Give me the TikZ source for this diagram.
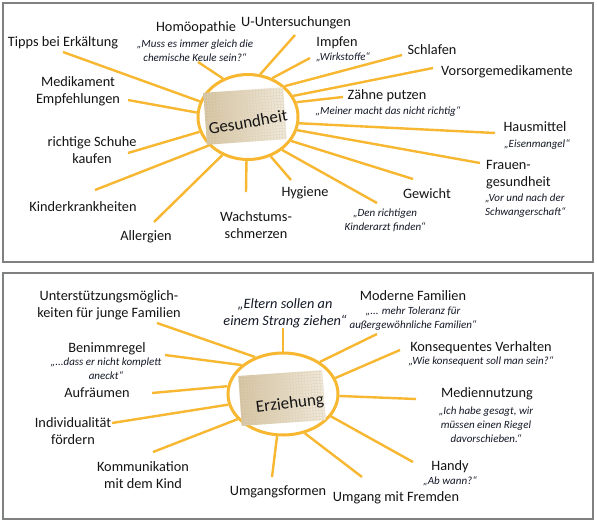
\documentclass[tikz,border=0pt]{standalone}
\usepackage{fontspec}
\setmainfont{Carlito}
\usetikzlibrary{shapes.geometric}
\definecolor{raycol}{HTML}{F7B731}
\definecolor{framecol}{HTML}{7F8080}
\definecolor{txtcol}{HTML}{141414}
\definecolor{qtcol}{HTML}{141826}
\definecolor{paperA}{HTML}{D3C19D}
\definecolor{paperB}{HTML}{F1EADC}
\definecolor{gridcol}{HTML}{DCD0B8}
\tikzset{
  lbl/.style={font=\fontsize{14.3}{17}\selectfont, text=txtcol, align=center, inner sep=0pt},
  qt/.style={font=\fontsize{11}{13.8}\selectfont\itshape, text=qtcol, align=center, inner sep=0pt},
  bigqt/.style={font=\fontsize{14.3}{17}\selectfont\itshape, text=qtcol, align=center, inner sep=0pt},
  ray/.style={draw=raycol, line width=2.4pt},
  hub/.style={ellipse, draw=raycol, line width=3pt, fill=white, inner sep=0pt},
  panel/.style={draw=framecol, line width=2.2pt},
  hubtext/.style={font=\fontsize{17}{20}\selectfont, text=txtcol, inner sep=0pt}
}
\begin{document}
\begin{tikzpicture}[x=1pt,y=-1pt]
\useasboundingbox (0,0) rectangle (597,523);
\fill[white] (0,0) rectangle (597,523);
% panels
\draw[panel] (3,3) rectangle (593,262);
\draw[panel] (3,273) rectangle (593,519);

% ===== top panel =====
\node[hub, minimum width=100pt, minimum height=85pt] (g) at (248,117) {};

\node[lbl] (tipps) at (63,43) {Tipps bei Erkältung};
\node[lbl] (homoe) at (196,28) {Homöopathie};
\node[qt] (homoeq) at (195,51) {„Muss es immer gleich die\\chemische Keule sein?“};
\node[lbl] (uunt) at (296,23) {U-Untersuchungen};
\node[lbl] (impf) at (337,43) {Impfen};
\node[qt] (impfq) at (343,57) {„Wirkstoffe“};
\node[lbl] (schlaf) at (432,50) {Schlafen};
\node[lbl] (vors) at (507,72) {Vorsorgemedikamente};
\node[lbl] (zaehne) at (387,96) {Zähne putzen};
\node[qt] (zaehneq) at (388,111) {„Meiner macht das nicht richtig“};
\node[lbl] (haus) at (535,127) {Hausmittel};
\node[qt] (hausq) at (537,144) {„Eisenmangel“};
\node[lbl, align=left, anchor=west] (frauen) at (486,175) {Frauen-\\gesundheit};
\node[qt, align=left, anchor=west] (frauenq) at (485,206) {„Vor und nach der\\Schwangerschaft“};
\node[lbl] (gewicht) at (427,194) {Gewicht};
\node[qt] (arztq) at (385,220) {„Den richtigen\\Kinderarzt finden“};
\node[lbl] (hyg) at (305,193) {Hygiene};
\node[lbl] (wachs) at (256,225) {Wachstums-\\schmerzen};
\node[lbl] (allerg) at (146,237) {Allergien};
\node[lbl] (kinderk) at (83,207) {Kinderkrankheiten};
\node[lbl] (schuhe) at (92,150) {richtige Schuhe\\kaufen};
\node[lbl] (medik) at (78,91) {Medikament\\Empfehlungen};

\coordinate (t1) at (63,52);
\coordinate (t2) at (198,62);
\coordinate (t3) at (295,35);
\coordinate (t4) at (310,58);
\coordinate (t5) at (402,55);
\coordinate (t6) at (433,68);
\coordinate (t7) at (343,97);
\coordinate (t8) at (495,133);
\coordinate (t9) at (480,163);
\coordinate (t10) at (413,179);
\coordinate (t11) at (377,203);
\coordinate (t12) at (291,180);
\coordinate (t13) at (246,192);
\coordinate (t14) at (154,222);
\coordinate (t15) at (95,190);
\coordinate (t16) at (128,153);
\coordinate (t17) at (128,100);

\draw[ray] (g.162.6) -- (t1);
\draw[ray] (g.123) -- (t2);
\draw[ray] (g.74.7) -- (t3);
\draw[ray] (g.58.4) -- (t4);
\draw[ray] (g.40) -- (t5);
\draw[ray] (g.25) -- (t6);
\draw[ray] (g.17) -- (t7);
\draw[ray] (g.-7) -- (t8);
\draw[ray] (g.-15) -- (t9);
\draw[ray] (g.-29) -- (t10);
\draw[ray] (g.-44) -- (t11);
\draw[ray] (g.-60) -- (t12);
\draw[ray] (g.-92) -- (t13);
\draw[ray] (g.-124) -- (t14);
\draw[ray] (g.-144) -- (t15);
\draw[ray] (g.-163) -- (t16);
\draw[ray] (g.175.5) -- (t17);

\begin{scope}[shift={(245,116)}, rotate=4]
  \clip (-40,-26) rectangle (40,26);
  \shade[left color=paperA, right color=paperB] (-40,-26) rectangle (40,26);
  \draw[gridcol, line width=0.25pt, step=3pt] (-40,-26) grid (40,26);
\end{scope}
\node[hubtext, rotate=10] (gt) at (248,122) {Gesundheit};

% ===== bottom panel =====
\node[hub, minimum width=110pt, minimum height=82pt] (e) at (283,394) {};

\node[lbl] (unter) at (109,305) {Unterstützungsmöglich-\\keiten für junge Familien};
\node[bigqt] (eltern) at (285,313) {„Eltern sollen an\\einem Strang ziehen“};
\node[lbl] (modern) at (413,296) {Moderne Familien};
\node[qt] (modernq) at (413,319) {„... mehr Toleranz für\\außergewöhnliche Familien“};
\node[lbl] (konseq) at (481,348) {Konsequentes Verhalten};
\node[qt] (konseqq) at (481,361) {„Wie konsequent soll man sein?“};
\node[lbl] (medien) at (487,394) {Mediennutzung};
\node[qt] (medienq) at (486,425) {„Ich habe gesagt, wir\\müssen einen Riegel\\davorschieben.“};
\node[lbl] (handy) at (450,467) {Handy};
\node[qt] (handyq) at (450,481) {„Ab wann?“};
\node[lbl] (fremd) at (396,498) {Umgang mit Fremden};
\node[lbl] (formen) at (278,492) {Umgangsformen};
\node[lbl] (komm) at (143,475) {Kommunikation\\mit dem Kind};
\node[lbl] (indiv) at (73,431) {Individualität\\fördern};
\node[lbl] (aufr) at (97,393) {Aufräumen};
\node[lbl] (benimm) at (107,349) {Benimmregel};
\node[qt] (benimmq) at (106,369) {„...dass er nicht komplett\\aneckt“};

\coordinate (b1) at (157,323);
\coordinate (b2) at (283,328);
\coordinate (b3) at (377,334);
\coordinate (b4) at (400,350);
\coordinate (b5) at (416,399);
\coordinate (b6) at (413,462);
\coordinate (b7) at (362,477);
\coordinate (b8) at (272,477);
\coordinate (b9) at (153,452);
\coordinate (b10) at (112,423);
\coordinate (b11) at (152,393);
\coordinate (b12) at (165,355);

\draw[ray] (e.127) -- (b1);
\draw[ray] (e.90) -- (b2);
\draw[ray] (e.41) -- (b3);
\draw[ray] (e.17) -- (b4);
\draw[ray] (e.-2) -- (b5);
\draw[ray] (e.-25) -- (b6);
\draw[ray] (e.-61) -- (b7);
\draw[ray] (e.-98) -- (b8);
\draw[ray] (e.-151) -- (b9);
\draw[ray] (e.-169) -- (b10);
\draw[ray] (e.172.5) -- (b11);
\draw[ray] (e.145) -- (b12);

\begin{scope}[shift={(282,398)}, rotate=4]
  \clip (-42,-25) rectangle (42,25);
  \shade[left color=paperA, right color=paperB] (-42,-25) rectangle (42,25);
  \draw[gridcol, line width=0.25pt, step=3pt] (-42,-25) grid (42,25);
\end{scope}
\node[hubtext, rotate=7] (et) at (290,404) {Erziehung};
\end{tikzpicture}
\end{document}
